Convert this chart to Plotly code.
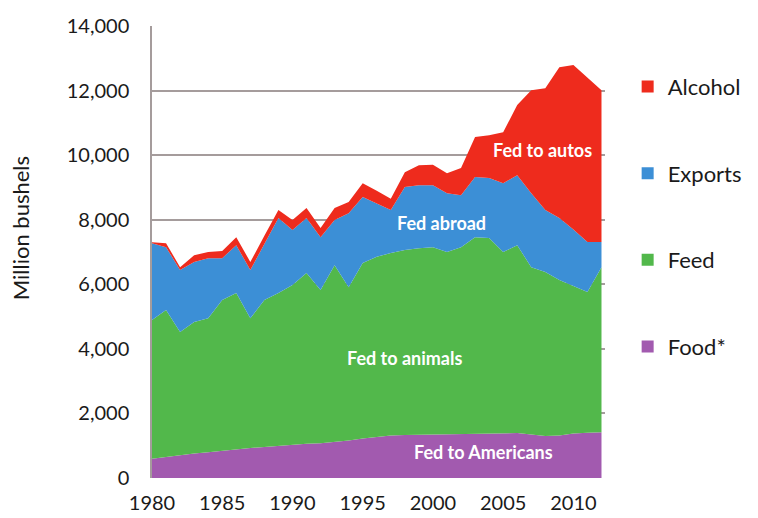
import plotly.graph_objects as go

years = list(range(1980, 2013))

# stack tops (million bushels)
top_alcohol = [7300, 7270, 6530, 6900, 7000, 7030, 7460, 6690, 7500, 8300,
               7990, 8360, 7740, 8360, 8550, 9130, 8900, 8650, 9470, 9690,
               9700, 9440, 9600, 10560, 10620, 10710, 11550, 12010, 12070, 12720,
               12790, 12400, 12010]
top_exports = [7270, 7150, 6440, 6690, 6810, 6810, 7210, 6440, 7250, 8050,
               7680, 8050, 7460, 7990, 8200, 8700, 8500, 8300, 9010, 9070,
               9070, 8820, 8760, 9320, 9290, 9130, 9380, 8820, 8300, 8050,
               7700, 7310, 7310]
top_feed = [4890, 5200, 4520, 4830, 4950, 5510, 5730, 4950, 5510, 5730,
            5980, 6350, 5820, 6590, 5910, 6660, 6850, 6970, 7060, 7120,
            7150, 7000, 7150, 7460, 7430, 7000, 7210, 6530, 6380, 6130,
            5950, 5760, 6530]
food = [600, 660, 720, 760, 800, 850, 890, 930, 960, 1000,
        1030, 1060, 1080, 1110, 1160, 1220, 1280, 1320, 1330, 1340,
        1350, 1360, 1370, 1380, 1390, 1400, 1390, 1350, 1300, 1320,
        1380, 1400, 1420]

feed = [t - f for t, f in zip(top_feed, food)]
exports = [t - f for t, f in zip(top_exports, top_feed)]
alcohol = [t - e for t, e in zip(top_alcohol, top_exports)]

series = [
    ("Food*", food, "#A25AAF"),
    ("Feed", feed, "#52B84B"),
    ("Exports", exports, "#3C8FD6"),
    ("Alcohol", alcohol, "#EE2B1D"),
]

FONT = "Lato, 'Open Sans', sans-serif"

fig = go.Figure()

for name, vals, color in series:
    fig.add_trace(go.Scatter(
        x=years, y=vals, name=name, stackgroup="corn",
        mode="lines", line=dict(width=0, color=color),
        fillcolor=color, showlegend=False, hoverinfo="x+y+name",
    ))

# legend-only square markers, top to bottom
for name, vals, color in reversed(series):
    fig.add_trace(go.Scatter(
        x=[None], y=[None], name=name, mode="markers",
        marker=dict(symbol="square", size=12, color=color),
        legendgroup=name, showlegend=True,
    ))

labels = [
    ("Fed to autos", 2007.8, 10160),
    ("Fed abroad", 2000.6, 7900),
    ("Fed to animals", 1998.0, 3720),
    ("Fed to Americans", 2003.6, 805),
]
for text, x, y in labels:
    fig.add_annotation(x=x, y=y, text="<b>%s</b>" % text, showarrow=False,
                       font=dict(family=FONT, size=18, color="white"))

# axis title placed by hand (sits a bit above the plot centre)
fig.add_annotation(xref="paper", yref="paper", x=-0.291, y=0.553,
                   xanchor="center", yanchor="middle",
                   text="Million bushels", textangle=-90, showarrow=False,
                   font=dict(family=FONT, size=22, color="#1a1a1a"))

# page body adds an 8px offset, margins allow for it
fig.update_layout(
    width=758, height=518,
    margin=dict(l=144, r=161, t=18, b=48),
    paper_bgcolor="white", plot_bgcolor="white",
    font=dict(family=FONT, size=20, color="#1a1a1a"),
    legend=dict(x=1.05, y=0.912, xanchor="left", yanchor="top",
                font=dict(size=22), tracegroupgap=55,
                bgcolor="rgba(0,0,0,0)"),
    hovermode="x unified",
)

fig.update_xaxes(
    range=[1980, 2012.25], tickvals=[1980, 1985, 1990, 1995, 2000, 2005, 2010],
    showgrid=False, zeroline=False, showline=False, ticks="",
    ticklabelstandoff=11, automargin=False,
)
fig.update_yaxes(
    range=[0, 14000], dtick=2000, tickformat=",d",
    showgrid=True, gridcolor="#a59c9c", gridwidth=1.5,
    zeroline=False, showline=True, linecolor="#a59c9c", linewidth=1.5,
    ticks="", ticklabelstandoff=17, automargin=False,
)

fig.write_html("out.html")
